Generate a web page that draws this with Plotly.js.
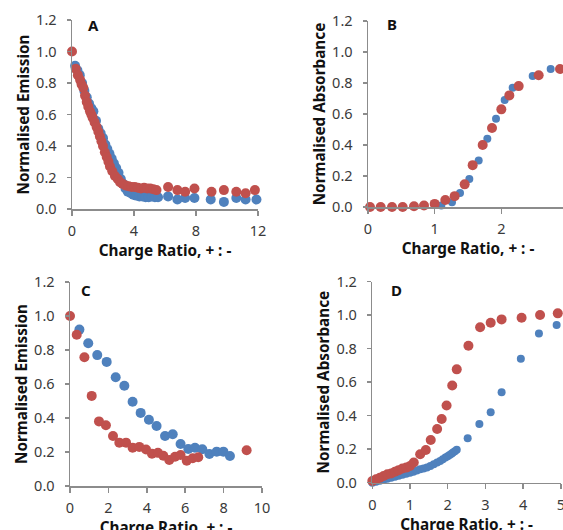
<!DOCTYPE html>
<html>
<head>
<meta charset="utf-8">
<script src="https://cdn.plot.ly/plotly-3.0.1.min.js"></script>
<style>
html,body{margin:0;padding:0;overflow:hidden;background:#fff;}
#chart{width:570px;height:540px;}
</style>
</head>
<body>
<div id="chart"></div>
<script>
// Panel A – Normalised Emission
const aBlueX = [0.2,0.35,0.5,0.65,0.8,0.95,1.1,1.25,1.38,1.55,1.7,1.85,2.0,2.15,2.28,2.42,2.56,2.7,2.85,3.0,3.15,3.3,3.45,3.6,3.8,3.95,4.15,4.35,4.55,4.75,4.95,5.15,5.35,5.55,6.2,6.8,7.3,7.9,8.95,9.8,10.6,11.2,11.9];
const aBlueY = [0.91,0.88,0.85,0.80,0.75,0.71,0.67,0.64,0.62,0.56,0.51,0.48,0.45,0.41,0.38,0.35,0.32,0.29,0.26,0.23,0.19,0.16,0.13,0.11,0.10,0.09,0.085,0.08,0.08,0.075,0.075,0.08,0.075,0.075,0.08,0.06,0.07,0.07,0.06,0.045,0.07,0.06,0.06];
const aRedX = [0,0.24,0.38,0.52,0.62,0.73,0.84,0.95,1.05,1.16,1.25,1.33,1.46,1.59,1.7,1.8,1.9,2.0,2.12,2.24,2.35,2.45,2.6,2.77,2.95,3.1,3.25,3.45,3.65,3.85,4.05,4.25,4.45,4.65,4.85,5.05,5.25,5.45,6.2,6.8,7.3,7.9,9.0,9.8,10.6,11.2,11.8];
const aRedY = [1.0,0.89,0.85,0.82,0.79,0.77,0.72,0.68,0.65,0.62,0.60,0.58,0.55,0.52,0.49,0.46,0.43,0.40,0.36,0.33,0.30,0.27,0.24,0.21,0.19,0.17,0.16,0.15,0.145,0.14,0.14,0.135,0.13,0.135,0.13,0.13,0.125,0.12,0.14,0.12,0.11,0.13,0.11,0.12,0.11,0.10,0.12];

// Panel B – Normalised Absorbance
const bBlueX = [1.1,1.26,1.38,1.52,1.66,1.79,1.92,2.05,2.17,2.47,2.74];
const bBlueY = [0.01,0.03,0.09,0.18,0.30,0.44,0.57,0.69,0.77,0.845,0.89];
const bRedX = [0.03,0.19,0.36,0.52,0.69,0.84,1.0,1.16,1.30,1.45,1.57,1.72,1.86,2.0,2.12,2.26,2.56,2.88];
const bRedY = [0,0,0,0,0.005,0.01,0.02,0.045,0.07,0.146,0.27,0.40,0.51,0.63,0.72,0.78,0.85,0.89];

// Panel C – Normalised Emission
const cBlueX = [0.49,0.95,1.42,1.91,2.38,2.83,3.26,3.68,4.11,4.51,4.95,5.35,5.76,6.16,6.51,6.89,7.26,7.64,7.99,8.33];
const cBlueY = [0.92,0.84,0.77,0.73,0.64,0.59,0.496,0.43,0.39,0.353,0.294,0.304,0.247,0.218,0.225,0.216,0.188,0.202,0.202,0.176];
const cRedX = [0,0.35,0.75,1.13,1.51,1.87,2.24,2.57,2.92,3.26,3.61,3.96,4.27,4.58,4.86,5.17,5.47,5.76,6.08,6.39,6.68,9.2];
const cRedY = [1.0,0.89,0.757,0.53,0.38,0.357,0.294,0.255,0.255,0.225,0.23,0.215,0.19,0.195,0.178,0.153,0.172,0.182,0.149,0.163,0.169,0.21];

// Panel D – Normalised Absorbance
const dBlueX = [0,0.1,0.2,0.3,0.4,0.5,0.6,0.7,0.8,0.9,1.0,1.09,1.18,1.27,1.36,1.45,1.54,1.63,1.72,1.8,1.87,1.94,2.0,2.05,2.1,2.14,2.19,2.24,2.53,2.84,3.14,3.43,3.94,4.42,4.89];
const dBlueY = [0,0.006,0.012,0.018,0.024,0.03,0.036,0.042,0.048,0.054,0.06,0.066,0.073,0.08,0.085,0.09,0.1,0.11,0.12,0.13,0.14,0.15,0.158,0.165,0.172,0.18,0.188,0.196,0.265,0.35,0.42,0.54,0.74,0.89,0.94];
const dRedX = [0,0.1,0.2,0.3,0.4,0.5,0.6,0.7,0.8,0.9,1.0,1.1,1.27,1.42,1.55,1.72,1.84,1.97,2.12,2.24,2.55,2.86,3.14,3.43,3.96,4.45,4.92];
const dRedY = [0.01,0.02,0.03,0.04,0.05,0.055,0.065,0.075,0.085,0.09,0.10,0.12,0.17,0.195,0.255,0.32,0.38,0.46,0.58,0.676,0.817,0.927,0.954,0.974,0.984,1.0,1.01];

const yTickVals = [0,0.2,0.4,0.6,0.8,1.0,1.2];
const panelLetters = ['A','B','C','D'];
const xTitle = 'Charge Ratio, + : -';
const yTitles = ['Normalised Emission','Normalised Absorbance','Normalised Emission','Normalised Absorbance'];

const BLUE = '#4F81BD', RED = '#C0504D';
const W = 570, H = 540;
const FONT = 'Noto Sans, Open Sans, sans-serif';

function sc(x, y, xa, ya, color, size) {
  return {x: x, y: y, xaxis: xa, yaxis: ya, type: 'scatter', mode: 'markers',
    marker: {color: color, size: size, line: {width: 0}}, cliponaxis: false, showlegend: false, hoverinfo: 'x+y'};
}

const data = [
  sc(aBlueX, aBlueY, 'x', 'y', BLUE, 10), sc(aRedX, aRedY, 'x', 'y', RED, 10),
  sc(bBlueX, bBlueY, 'x2', 'y2', BLUE, 8), sc(bRedX, bRedY, 'x2', 'y2', RED, 10),
  sc(cBlueX, cBlueY, 'x3', 'y3', BLUE, 10), sc(cRedX, cRedY, 'x3', 'y3', RED, 10),
  sc(dBlueX, dBlueY, 'x4', 'y4', BLUE, 8), sc(dRedX, dRedY, 'x4', 'y4', RED, 10)
];

function px(p) { return p / W; }
function py(p) { return 1 - p / H; }

const AXC = '#8c8c8c', TICKC = '#3a3a3a';
function xax(l, r, range, dtick, anchor) {
  return {domain: [px(l), px(r)], range: range, dtick: dtick, tick0: 0, anchor: anchor,
    showline: true, linecolor: AXC, linewidth: 1.5, ticks: 'outside', ticklen: 5, tickcolor: AXC, tickwidth: 1.5,
    showgrid: false, zeroline: false, tickfont: {family: FONT, size: 14.5, color: TICKC}, ticklabelstandoff: 3,
    title: {text: '<b>' + xTitle + '</b>', font: {family: FONT, size: 15.3, color: '#111'}, standoff: 0}};
}
function yax(top, bot, anchor, title) {
  return {domain: [py(bot), py(top)], range: [0, 1.2], tickvals: yTickVals, tickformat: '.1f', anchor: anchor,
    showline: true, linecolor: AXC, linewidth: 1.5, ticks: 'outside', ticklen: 4, tickcolor: AXC, tickwidth: 1.5,
    showgrid: false, zeroline: false, tickfont: {family: FONT, size: 14.5, color: TICKC}, ticklabelstandoff: 7,
    title: {text: '<b>' + title + '</b>', font: {family: FONT, size: 15.3, color: '#111'}, standoff: 3}};
}

const letterPos = [[93, 25], [392, 24], [86, 290], [397, 290]];
const annotations = panelLetters.map((t, i) => ({
  text: '<b>' + t + '</b>', xref: 'paper', yref: 'paper', x: px(letterPos[i][0]), y: py(letterPos[i][1]),
  xanchor: 'center', yanchor: 'middle', showarrow: false, font: {family: FONT, size: 15, color: '#111'}
}));

const layout = {
  width: W, height: H, margin: {l: 0, r: 0, t: 0, b: 0}, paper_bgcolor: '#fff', plot_bgcolor: '#fff',
  showlegend: false,
  xaxis: xax(72, 258, [0, 12], 4, 'y'),
  yaxis: yax(20, 209, 'x', yTitles[0]),
  xaxis2: xax(368, 568, [0, 3], 1, 'y2'),
  yaxis2: yax(21, 207, 'x2', yTitles[1]),
  xaxis3: xax(70, 262, [0, 10], 2, 'y3'),
  yaxis3: yax(282, 486, 'x3', yTitles[2]),
  xaxis4: xax(372.3, 560.8, [0, 5], 1, 'y4'),
  yaxis4: yax(281.5, 482.7, 'x4', yTitles[3]),
  annotations: annotations
};

Plotly.newPlot('chart', data, layout, {displayModeBar: false, staticPlot: true});
</script>
</body>
</html>
